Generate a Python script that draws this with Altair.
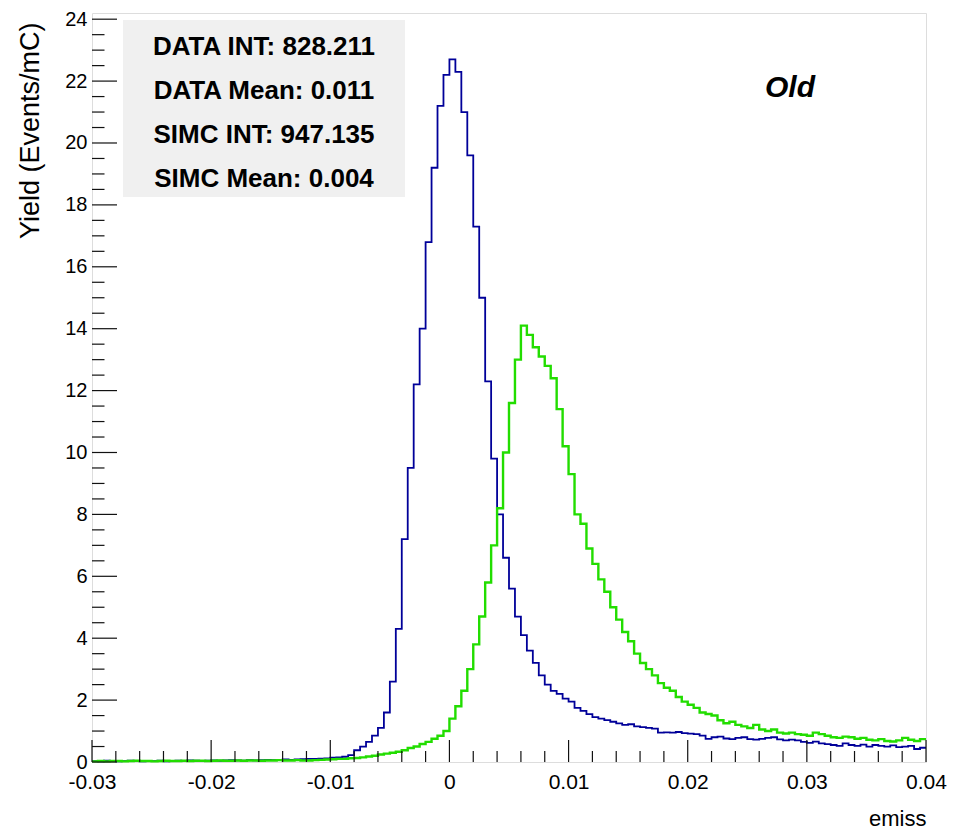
import altair as alt
import pandas as pd

# ---------------- data ----------------
X_LO, X_HI = -0.03, 0.04
BIN_W = 0.0005

# DATA histogram (blue), one value per 0.0005 bin from -0.03 to 0.04
data_vals = [
    0.03, 0.02, 0.04, 0.03, 0.02, 0.03, 0.04, 0.03, 0.02, 0.03, 0.03, 0.04,
    0.02, 0.03, 0.04, 0.03, 0.05, 0.04, 0.03, 0.04, 0.05, 0.04, 0.05, 0.06,
    0.05, 0.04, 0.06, 0.05, 0.06, 0.07, 0.06, 0.07, 0.08, 0.07, 0.08, 0.09,
    0.10, 0.10, 0.11, 0.12, 0.14, 0.15, 0.17, 0.22, 0.38, 0.50, 0.65, 0.85,
    1.10, 1.60, 2.60, 4.30, 7.20, 9.50, 12.2, 14.0, 16.8, 19.2, 21.2, 22.2,
    22.7, 22.3, 21.0, 19.6, 17.3, 15.0, 12.3, 9.8, 8.0, 6.6,
    5.6, 4.7, 4.1, 3.6, 3.2, 2.8, 2.5, 2.3, 2.2, 2.05,
    1.95, 1.75, 1.65, 1.55, 1.45, 1.40, 1.35, 1.30, 1.25, 1.20,
    1.22, 1.15, 1.13, 1.10, 1.08, 0.95, 0.96, 0.95, 0.97, 0.93,
    0.92, 0.90, 0.85, 0.75, 0.80, 0.82, 0.76, 0.74, 0.78, 0.80,
    0.74, 0.72, 0.75, 0.78, 0.80, 0.73, 0.70, 0.72, 0.70, 0.65,
    0.62, 0.66, 0.60, 0.58, 0.55, 0.52, 0.60, 0.55, 0.52, 0.56,
    0.50, 0.55, 0.52, 0.50, 0.54, 0.48, 0.50, 0.52, 0.42, 0.46,
]

# SIMC histogram (green)
simc_vals = [
    0.02, 0.03, 0.02, 0.03, 0.03, 0.02, 0.03, 0.04, 0.03, 0.03, 0.02, 0.03,
    0.04, 0.03, 0.03, 0.04, 0.03, 0.04, 0.04, 0.03, 0.04, 0.05, 0.04, 0.04,
    0.05, 0.04, 0.05, 0.05, 0.04, 0.05, 0.05, 0.06, 0.05, 0.05, 0.06, 0.05,
    0.05, 0.06, 0.07, 0.08, 0.09, 0.10, 0.10, 0.12, 0.13, 0.15, 0.18, 0.20,
    0.24, 0.27, 0.30, 0.33, 0.38, 0.45, 0.50, 0.58, 0.65, 0.75, 0.85, 1.00,
    1.4, 1.8, 2.3, 3.0, 3.8, 4.7, 5.8, 7.0, 8.2, 10.0,
    11.6, 13.0, 14.1, 13.8, 13.4, 13.1, 12.8, 12.4, 11.4, 10.2,
    9.3, 8.0, 7.7, 6.9, 6.4, 5.9, 5.5, 5.0, 4.6, 4.2,
    3.9, 3.5, 3.2, 3.0, 2.8, 2.55, 2.4, 2.3, 2.1, 1.95,
    1.85, 1.75, 1.60, 1.55, 1.50, 1.35, 1.25, 1.30, 1.20, 1.15,
    1.10, 1.20, 1.05, 1.00, 1.05, 0.95, 0.92, 0.95, 0.90, 0.88,
    0.85, 0.95, 0.90, 0.85, 0.80, 0.78, 0.82, 0.80, 0.75, 0.78,
    0.72, 0.70, 0.74, 0.68, 0.66, 0.70, 0.78, 0.72, 0.68, 0.74,
]

stats_lines = ["DATA INT: 828.211", "DATA Mean: 0.011",
               "SIMC INT: 947.135", "SIMC Mean: 0.004"]
label_old = "Old"

x_major = [-0.03, -0.02, -0.01, 0.0, 0.01, 0.02, 0.03, 0.04]
x_minor = [round(X_LO + 0.002 * i, 3) for i in range(36) if i % 5 != 0]
y_major = list(range(0, 25, 2))
y_minor = [0.5 * i for i in range(49) if i % 4 != 0]

# ---------------- chart ----------------
W, H = 834, 749
FONT = "Liberation Sans"

edges = [round(X_LO + i * BIN_W, 5) for i in range(len(data_vals) + 1)]


def hist_df(vals):
    return pd.DataFrame({"x": edges, "y": list(vals) + [vals[-1]]})


xscale = alt.Scale(domain=[X_LO, X_HI], nice=False, zero=False)
yscale = alt.Scale(domain=[0, 24.2], nice=False, zero=True)

xaxis = alt.Axis(
    values=x_major,
    labelExpr="datum.value == 0 ? '0' : replace(format(datum.value, '.2f'), '\u2212', '-')",
    ticks=False, domain=False, grid=False,
    labelFont=FONT, labelFontSize=21, labelColor="black", labelPadding=9,
    labelOverlap=False, labelFlush=False,
    title="emiss", titleFont=FONT, titleFontSize=22, titleFontWeight="normal",
    titleColor="black", titleX=W, titleY=56, titleAlign="right",
    titleBaseline="middle",
)
yaxis = alt.Axis(
    values=y_major, ticks=False, domain=False, grid=False,
    labelFont=FONT, labelFontSize=20, labelColor="black", labelPadding=5,
    labelOverlap=False, labelFlush=False,
    title="Yield (Events/mC)", titleFont=FONT, titleFontSize=27,
    titleFontWeight="normal", titleColor="black", titleAngle=-90,
    titleX=-62, titleY=9, titleAlign="right", titleBaseline="middle",
)

blue = alt.Chart(hist_df(data_vals)).mark_line(
    interpolate="step-after", color="#000099", strokeWidth=1.8
).encode(
    x=alt.X("x:Q", scale=xscale, axis=xaxis),
    y=alt.Y("y:Q", scale=yscale, axis=yaxis),
)
green = alt.Chart(hist_df(simc_vals)).mark_line(
    interpolate="step-after", color="#22dd00", strokeWidth=2.4
).encode(
    x=alt.X("x:Q", scale=xscale),
    y=alt.Y("y:Q", scale=yscale),
)

one = pd.DataFrame({"a": [0]})
box = alt.Chart(one).mark_rect(color="#f0f0f0").encode(
    x=alt.value(31), x2=alt.value(313), y=alt.value(7), y2=alt.value(184)
)
texts = []
for i, s in enumerate(stats_lines):
    texts.append(
        alt.Chart(one).mark_text(
            font=FONT, fontSize=26, fontWeight="bold", color="black",
            align="center", baseline="middle",
        ).encode(x=alt.value(172), y=alt.value(34 + 44 * i), text=alt.value(s))
    )
old = alt.Chart(one).mark_text(
    font=FONT, fontSize=30, fontWeight="bold", fontStyle="italic",
    color="black", align="center", baseline="middle",
).encode(x=alt.value(698), y=alt.value(75), text=alt.value(label_old))


def xticks(vals, length):
    return alt.Chart(pd.DataFrame({"x": vals})).mark_rule(
        color="#111", strokeWidth=1.2
    ).encode(
        x=alt.X("x:Q", scale=xscale),
        y=alt.value(H), y2=alt.value(H - length),
    )


def yticks(vals, length):
    return alt.Chart(pd.DataFrame({"y": vals})).mark_rule(
        color="#111", strokeWidth=1.2
    ).encode(
        y=alt.Y("y:Q", scale=yscale),
        x=alt.value(0), x2=alt.value(length),
    )


chart = alt.layer(
    blue, box, *texts, old, green,
    xticks(x_major, 22), xticks(x_minor, 11),
    yticks(y_major, 25), yticks(y_minor, 12.5),
).properties(
    width=W, height=H,
    padding={"left": 84, "top": 5, "right": 40, "bottom": 70},
    autosize=alt.AutoSizeParams(type="none"),
).configure_view(
    stroke="#222", strokeWidth=1.5
).configure(background="white")

chart.save("out.html", embed_options={"renderer": "svg", "actions": False})
